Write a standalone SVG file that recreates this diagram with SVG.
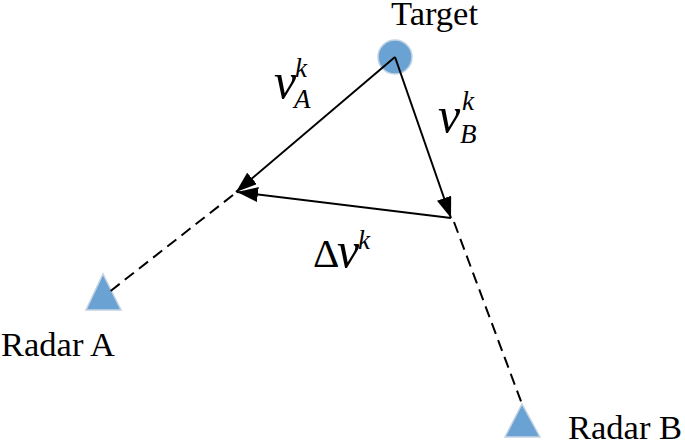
<svg xmlns="http://www.w3.org/2000/svg" width="685" height="446" viewBox="0 0 685 446">
<defs>
<marker id="arrow" viewBox="0 0 21 15" refX="21" refY="7.5" markerWidth="21" markerHeight="15" markerUnits="userSpaceOnUse" orient="auto"><path d="M0 0L21 7.5L0 15Z" fill="#000"/></marker>
</defs>
<style>
text{font-family:"Liberation Serif","Times New Roman",serif;fill:#000}
.lbl{font-size:34.5px}
.v{font-style:italic;font-size:50px}
.s{font-style:italic;font-size:27px}
.shape{fill:#6aa2d3;stroke:#c3d3e3;stroke-width:1.5}
.line{fill:none;stroke:#000;stroke-width:2}
.dash{fill:none;stroke:#000;stroke-width:2;stroke-dasharray:11.5 6.5}
</style>
<rect width="685" height="446" fill="#fff"/>
<g id="target"><circle class="shape" cx="395" cy="57" r="17"/><text class="lbl" x="391" y="25">Target</text></g>
<g id="radar-a"><path class="shape" d="M103 274L121 310H86Z"/><text class="lbl" x="1" y="356">Radar A</text></g>
<g id="radar-b"><path class="shape" d="M522 404L540 437H505Z"/><text class="lbl" x="568" y="439">Radar B</text></g>
<g id="connectors">
<line class="line" x1="395" y1="57" x2="236" y2="192" marker-end="url(#arrow)"/>
<line class="line" x1="395" y1="57" x2="451" y2="218" marker-end="url(#arrow)"/>
<line class="line" x1="451" y1="218" x2="237" y2="192" marker-end="url(#arrow)"/>
<line class="dash" x1="233" y1="195" x2="108" y2="293"/>
<line class="dash" x1="454" y1="222" x2="522" y2="404"/>
</g>
<g id="labels">
<text class="v" x="274" y="98">v</text><text class="s" x="295" y="77">k</text><text class="s" x="294" y="108">A</text>
<text class="v" x="438" y="132">v</text><text class="s" x="462" y="110">k</text><text class="s" x="460" y="143">B</text>
<text x="313" y="267" font-size="41">Δ</text><text class="v" x="337" y="267">v</text><text class="s" x="358" y="249">k</text>
</g>
</svg>
